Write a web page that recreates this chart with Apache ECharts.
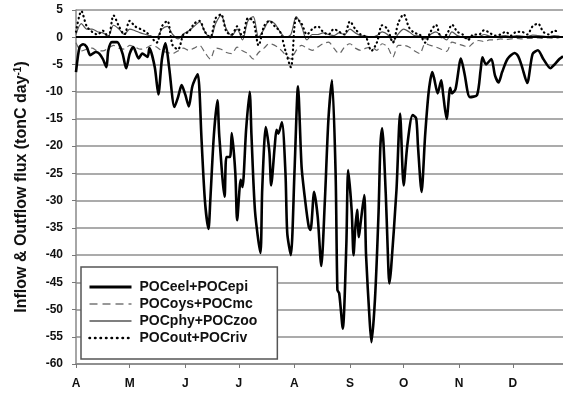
<!DOCTYPE html>
<html>
<head>
<meta charset="utf-8">
<script src="https://cdn.jsdelivr.net/npm/echarts@6/dist/echarts.min.js"></script>
<style>
  html, body { margin: 0; padding: 0; background: #fff; }
  #chart { width: 563px; height: 395px; }
</style>
</head>
<body>
<div id="chart"></div>
<script>
// days counted from 1 April
const monthStarts = [0, 30, 61, 91, 122, 153, 183, 214, 244];
const monthLabels = ["A", "M", "J", "J", "A", "S", "O", "N", "D"];

// POCeel+POCepi (read at peaks / troughs)
const eelDays = [0, 2, 4, 6, 8, 11, 13, 15, 17, 18, 20, 23, 26, 28, 30, 32, 35, 37, 40, 41,
  44, 46, 48, 50, 52, 55, 57, 59, 61, 63, 65, 68, 69, 70, 72, 74, 75, 77, 79, 80,
  83, 84, 86, 87, 89, 90, 92, 93, 95, 97, 98, 100, 103, 104, 106, 108, 109, 111, 112, 113,
  115, 117, 118, 120, 122, 124, 126, 128, 130, 131, 133, 135, 137, 139, 141, 143, 145, 146, 147, 149,
  151, 152, 154, 155, 156, 157, 158, 159, 161, 162, 164, 165, 167, 169, 170, 171, 173, 174, 175, 176,
  179, 181, 183, 185, 188, 190, 191, 193, 195, 197, 199, 200, 202, 204, 205, 207, 209, 210, 212, 215,
  217, 220, 224, 226, 227, 229, 232, 234, 236, 238, 241, 245, 247, 249, 252, 255, 258, 261, 265, 267,
  270, 272];
const eelVals = [-6.4, -1.8, -1.3, -1.8, -3.3, -2.7, -3.0, -4.0, -5.5, -2.5, -0.9, -0.9, -3.0, -5.7, -3.0, -1.8, -3.9, -3.0, -3.6, -2.0,
  -5.5, -10.5, -4.0, -1.1, -5.5, -12.8, -11, -8.8, -10.5, -12.7, -9, -6.8, -10, -18, -30, -35.2, -30, -18, -11.6, -18,
  -29.3, -22, -22, -17.6, -25, -33.6, -26.2, -27.5, -17, -10, -18, -32, -39.6, -28, -16.5, -21, -27.2, -20, -17, -17.7,
  -15.6, -25, -36, -40, -25, -9, -23.8, -30, -34.8, -35.4, -28.4, -33, -42, -30, -15, -7.9, -25, -46.4, -47, -53.5,
  -38, -24.4, -32, -40, -35, -31.7, -36.7, -34, -29, -40, -52, -56, -48, -32, -20, -16.7, -28.7, -38, -45.2, -42.4,
  -28, -14, -27.2, -20, -14.3, -14.9, -20, -28.4, -18, -10, -6.4, -7.5, -10.3, -7.9, -10.3, -15, -9.3, -10.3, -9.5, -3.9,
  -6.7, -11, -10.6, -6, -3.7, -5.0, -4, -7, -8.3, -6.4, -4, -2.9, -3.5, -5.3, -8.4, -3.1, -2.4, -4, -5.7, -5.1,
  -4, -3.5];

// the three smaller fluxes, read every 3 days from 1 April
const SAMPLE_STEP = 3;
const oysMc = [-1.0, -2.5, -2.2, -2.0, -2.5, -2.5, -2.0, -1.5, -2.0, -2.2,
  -1.5, -1.8, -2.2, -2.0, -1.5, -1.8, -2.5, -2.8, -3.0, -2.5,
  -2.0, -2.4, -2.0, -1.5, -2.8, -4.0, -2.0, -2.2, -2.8, -3.0,
  -1.8, -2.5, -3.0, -4.0, -2.8, -2.0, -1.2, -1.5, -2.2, -3.2,
  -4.0, -2.4, -1.5, -2.0, -2.4, -1.8, -1.2, -0.9, -2.0, -3.0,
  -1.8, -1.2, -2.0, -2.4, -2.0, -1.8, -2.4, -1.2, -1.8, -3.6,
  -1.5, -1.5, -1.8, -2.5, -3.0, -1.2, -1.5, -1.8, -2.2, -2.6,
  -0.9, -1.2, -1.5, -1.8, -1.0, -0.6, -0.8, -0.5, -0.5, -0.3,
  -0.4, -0.3, -0.2, -0.3, -0.2, -0.2, -0.1, -0.2, -0.1, -0.2, -0.1];
const phyZoo = [0.5, 2.5, 1.5, 1.5, 1.0, 0.8, 0.2, 2.2, 1.5, 0.5,
  1.5, 1.2, 0.8, 0.5, 0.2, 0.0, 1.5, 2.0, 0.5, -0.3,
  0.6, 1.2, 2.0, 2.8, 1.0, -0.2, 2.5, 4.0, 1.5, 0.3,
  1.5, -0.5, 3.0, 3.8, 0.0, 1.5, 3.0, 2.5, 1.0, 0.0,
  0.5, 3.8, 2.0, -0.5, 0.5, 0.5, 0.8, 0.5, 0.3, 0.8,
  0.5, 1.5, 0.8, 0.3, 0.2, 0.0, 0.3, 1.0, 0.5, -0.8,
  0.6, 1.5, 1.0, 0.3, 0.2, -0.3, 0.5, 1.0, 0.2, -0.5,
  1.0, 0.3, 0.0, -0.3, 0.2, 0.1, 0.5, 0.2, 0.1, 0.2,
  0.3, 0.1, 0.3, 0.2, 0.1, 0.4, 0.3, 0.2, 0.1, 0.3, 0.2];
const outRiv = [1.0, 4.8, 2.0, 1.0, 0.5, 1.2, 0.0, 4.0, 2.0, 0.5,
  3.0, 2.0, 1.5, 1.0, 0.0, -1.0, 2.0, 3.0, -1.5, -2.2,
  0.5, 1.0, 2.5, 3.0, 1.0, 0.0, 3.5, 4.2, 1.0, 0.5,
  2.0, 0.0, 3.5, 3.0, -1.5, 2.0, 3.0, 2.0, 1.0, -2.5,
  -5.5, 3.5, 2.5, 0.5, 1.5, 2.0, 1.0, 0.5, 1.5, 1.0,
  0.5, 2.9, 1.5, 0.5, 0.0, -2.5, -1.0, 2.2, 1.5, -1.0,
  2.6, 4.2, 1.8, 0.8, 0.5, -1.0, 1.0, 2.3, 0.0, 0.5,
  2.3, 1.0, 0.5, -0.5, 0.5, 0.5, 1.3, 0.8, 0.3, 0.5,
  1.0, 0.3, 1.0, 1.0, 0.5, 2.0, 2.5, 1.0, 0.5, 1.2, 1.0];

const seriesNames = ["POCeel+POCepi", "POCoys+POCmc", "POCphy+POCzoo", "POCout+POCriv"];

function pairs(days, vals) {
  return vals.map(function (v, i) { return [days[i], v]; });
}
function stepped(vals) {
  return vals.map(function (v, i) { return [i * SAMPLE_STEP, v]; });
}

const FONT = '"Liberation Sans", Arial, sans-serif';
const noSymbol = { opacity: 0 };

const chart = echarts.init(document.getElementById("chart"));
chart.setOption({
  animation: false,
  backgroundColor: "#fff",
  textStyle: { fontFamily: FONT },
  grid: { left: 76, right: 0, top: 10, bottom: 31 },
  legend: {
    orient: "vertical",
    left: 81,
    top: 267,
    padding: [13, 20, 14, 7],
    itemWidth: 42,
    itemHeight: 14,
    itemGap: 3,
    backgroundColor: "#fff",
    borderColor: "#555",
    borderWidth: 1.5,
    textStyle: { fontFamily: FONT, fontSize: 14, fontWeight: "bold", color: "#111", padding: [0, 0, 0, 3] },
    data: [
      { name: seriesNames[0], itemStyle: noSymbol, lineStyle: { width: 3, color: "#000", type: "solid" } },
      { name: seriesNames[1], itemStyle: noSymbol, lineStyle: { width: 1.5, color: "#777", type: [8, 5] } },
      { name: seriesNames[2], itemStyle: noSymbol, lineStyle: { width: 1.5, color: "#555", type: "solid" } },
      { name: seriesNames[3], itemStyle: noSymbol, lineStyle: { width: 2.5, color: "#000", type: [0.5, 5], cap: "round" } }
    ],
    z: 10
  },
  xAxis: {
    type: "value",
    min: 0,
    max: 272,
    axisLine: { show: true, onZero: false, lineStyle: { color: "#888", width: 1.5 } },
    axisTick: { show: true, length: 4, customValues: monthStarts, lineStyle: { color: "#777" } },
    axisLabel: {
      customValues: monthStarts,
      margin: 14,
      fontSize: 12,
      fontWeight: "bold",
      color: "#111",
      fontFamily: FONT,
      formatter: function (v) {
        const i = monthStarts.indexOf(v);
        return i >= 0 ? monthLabels[i] : "";
      }
    },
    splitLine: { show: false }
  },
  yAxis: {
    type: "value",
    min: -60,
    max: 5,
    interval: 5,
    name: "Inflow & Outflow flux (tonC day{sup|-1})",
    nameLocation: "middle",
    nameGap: 45,
    nameRotate: 90,
    nameTextStyle: {
      fontFamily: FONT,
      fontSize: 16,
      fontWeight: "bold",
      color: "#111",
      rich: {
        sup: { fontFamily: FONT, fontSize: 10, fontWeight: "bold", color: "#111", verticalAlign: "top", lineHeight: 18 }
      }
    },
    axisLine: { show: true, lineStyle: { color: "#888", width: 1.5 } },
    axisTick: { show: true, length: 4, lineStyle: { color: "#777" } },
    axisLabel: { margin: 13, fontSize: 12, fontWeight: "bold", color: "#111", fontFamily: FONT },
    splitLine: { show: true, lineStyle: { color: "#8f8f8f", width: 1.5 } }
  },
  series: [
    {
      name: seriesNames[0],
      type: "line",
      data: pairs(eelDays, eelVals),
      symbol: "none",
      smooth: 0.25,
      z: 5,
      lineStyle: { color: "#000", width: 2.6 },
      itemStyle: { color: "#000" },
      markLine: {
        silent: true,
        symbol: "none",
        label: { show: false },
        lineStyle: { color: "#000", width: 2, type: "solid" },
        data: [{ yAxis: 0 }]
      }
    },
    {
      name: seriesNames[1],
      type: "line",
      data: stepped(oysMc),
      symbol: "none",
      smooth: 0.3,
      z: 3,
      lineStyle: { color: "#666", width: 1.2, type: [6, 4] },
      itemStyle: { color: "#666" }
    },
    {
      name: seriesNames[2],
      type: "line",
      data: stepped(phyZoo),
      symbol: "none",
      smooth: 0.3,
      z: 3,
      lineStyle: { color: "#555", width: 1.2 },
      itemStyle: { color: "#555" }
    },
    {
      name: seriesNames[3],
      type: "line",
      data: stepped(outRiv),
      symbol: "none",
      smooth: 0.3,
      z: 4,
      lineStyle: { color: "#000", width: 2.2, type: [0.5, 4], cap: "round" },
      itemStyle: { color: "#000" }
    }
  ]
});
</script>
</body>
</html>
